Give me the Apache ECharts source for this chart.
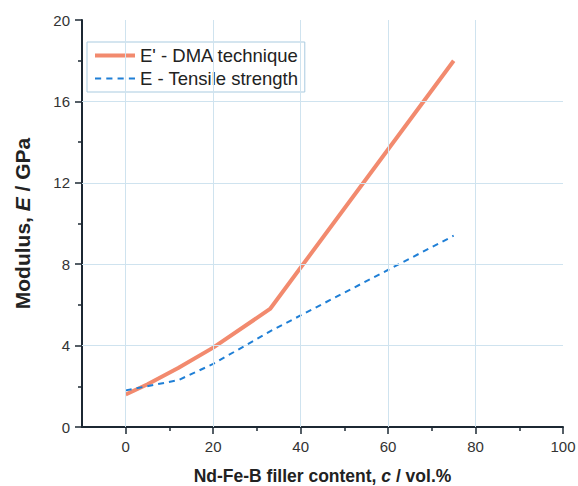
<!DOCTYPE html>
<html><head><meta charset="utf-8">
<script src="https://cdn.jsdelivr.net/npm/echarts@6/dist/echarts.min.js"></script>
<style>html,body{margin:0;padding:0;background:#fff}#c{width:578px;height:486px}</style>
</head><body><div id="c"></div>
<script>
const seriesNames = ["E' - DMA technique", "E - Tensile strength"];
const dmaX = [0, 5, 12, 20, 33, 75];
const dmaY = [1.6, 2.1, 2.9, 3.9, 5.8, 18.0];
const tensileX = [0, 12, 20, 33, 75];
const tensileY = [1.8, 2.3, 3.1, 4.7, 9.4];
const xMajorTicks = [0, 20, 40, 60, 80, 100];
const xMinorTicks = [10, 30, 50, 70, 90];
const yMajorTicks = [0, 4, 8, 12, 16, 20];
const xGridLines = [0, 20, 40, 60, 80];
const yGridLines = [4, 8, 12, 16];

const font = 'Liberation Sans, Arial, sans-serif';
const axisColor = '#1c2833';
const gridColor = '#cfe3ef';
const chart = echarts.init(document.getElementById('c'), null, {renderer: 'svg'});
chart.setOption({
  animation: false,
  backgroundColor: '#fff',
  grid: {left: 82, right: 15, top: 20, bottom: 59, containLabel: false, outerBoundsMode: 'none'},
  legend: {
    left: 87, top: 42, orient: 'vertical', itemGap: 4,
    padding: [4, 6, 4, 8],
    backgroundColor: '#fff',
    borderColor: '#a9cbe0', borderWidth: 1,
    itemWidth: 40, itemHeight: 4,
    textStyle: {fontFamily: font, fontSize: 18.5, color: '#222'},
    data: [
      {name: seriesNames[0], icon: 'path://M0,0h40v4h-40z'},
      {name: seriesNames[1], icon: 'path://M0,0h6v2h-6zM11,0h6v2h-6zM22,0h6v2h-6zM33,0h6v2h-6z'}
    ]
  },
  xAxis: [{
    type: 'value', min: -10, max: 100, interval: 10,
    name: '{b|Nd-Fe-B filler content, }{i|c}{b| / vol.%}',
    nameLocation: 'middle', nameGap: 40,
    nameTextStyle: {lineHeight: 18, rich: {
      b: {fontFamily: font, fontSize: 17.5, lineHeight: 18, fontWeight: 'bold', color: '#222'},
      i: {fontFamily: font, fontSize: 17.5, lineHeight: 18, fontWeight: 'bold', fontStyle: 'italic', color: '#222'}
    }},
    axisLine: {show: true, onZero: false, lineStyle: {color: axisColor, width: 2}},
    axisTick: {show: true, customValues: xMajorTicks, length: 7, lineStyle: {color: axisColor, width: 1.5}},
    axisLabel: {customValues: xMajorTicks, fontFamily: font, fontSize: 15, color: '#333', margin: 12},
    splitLine: {show: false}
  }, {
    type: 'value', min: -10, max: 100, interval: 10, position: 'bottom',
    axisLine: {show: false, onZero: false},
    axisTick: {show: true, customValues: xMinorTicks, length: 4, lineStyle: {color: axisColor, width: 1.5}},
    axisLabel: {show: false},
    splitLine: {show: false}
  }],
  yAxis: {
    type: 'value', min: 0, max: 20, interval: 4,
    name: '{b|Modulus, }{i|E}{b| / GPa}',
    nameLocation: 'middle', nameGap: 49, nameRotate: 90,
    nameTextStyle: {rich: {
      b: {fontFamily: font, fontSize: 21, fontWeight: 'bold', color: '#222'},
      i: {fontFamily: font, fontSize: 21, fontWeight: 'bold', fontStyle: 'italic', color: '#222'}
    }},
    axisLine: {show: true, onZero: false, lineStyle: {color: axisColor, width: 2}},
    axisTick: {show: true, length: 7, lineStyle: {color: axisColor, width: 1.5}},
    minorTick: {show: true, splitNumber: 2, length: 4, lineStyle: {color: axisColor, width: 1.5}},
    axisLabel: {customValues: yMajorTicks, fontFamily: font, fontSize: 15, color: '#333', margin: 12},
    splitLine: {show: false}
  },
  series: [{
    name: 'grid', type: 'line', data: [], z: 1, silent: true,
    markLine: {
      silent: true, symbol: 'none', label: {show: false},
      lineStyle: {color: gridColor, width: 1, type: 'solid'},
      data: xGridLines.map(v => ({xAxis: v})).concat(yGridLines.map(v => ({yAxis: v})))
    }
  }, {
    name: seriesNames[0], type: 'line', showSymbol: false, symbol: 'none',
    data: dmaX.map((x, i) => [x, dmaY[i]]),
    itemStyle: {color: '#f28a6e'},
    lineStyle: {color: '#f28a6e', width: 4}, z: 3
  }, {
    name: seriesNames[1], type: 'line', showSymbol: false, symbol: 'none',
    data: tensileX.map((x, i) => [x, tensileY[i]]),
    itemStyle: {color: '#1f7fd6'},
    lineStyle: {color: '#1f7fd6', width: 2, type: [6, 5]}, z: 4
  }]
});
</script></body></html>
